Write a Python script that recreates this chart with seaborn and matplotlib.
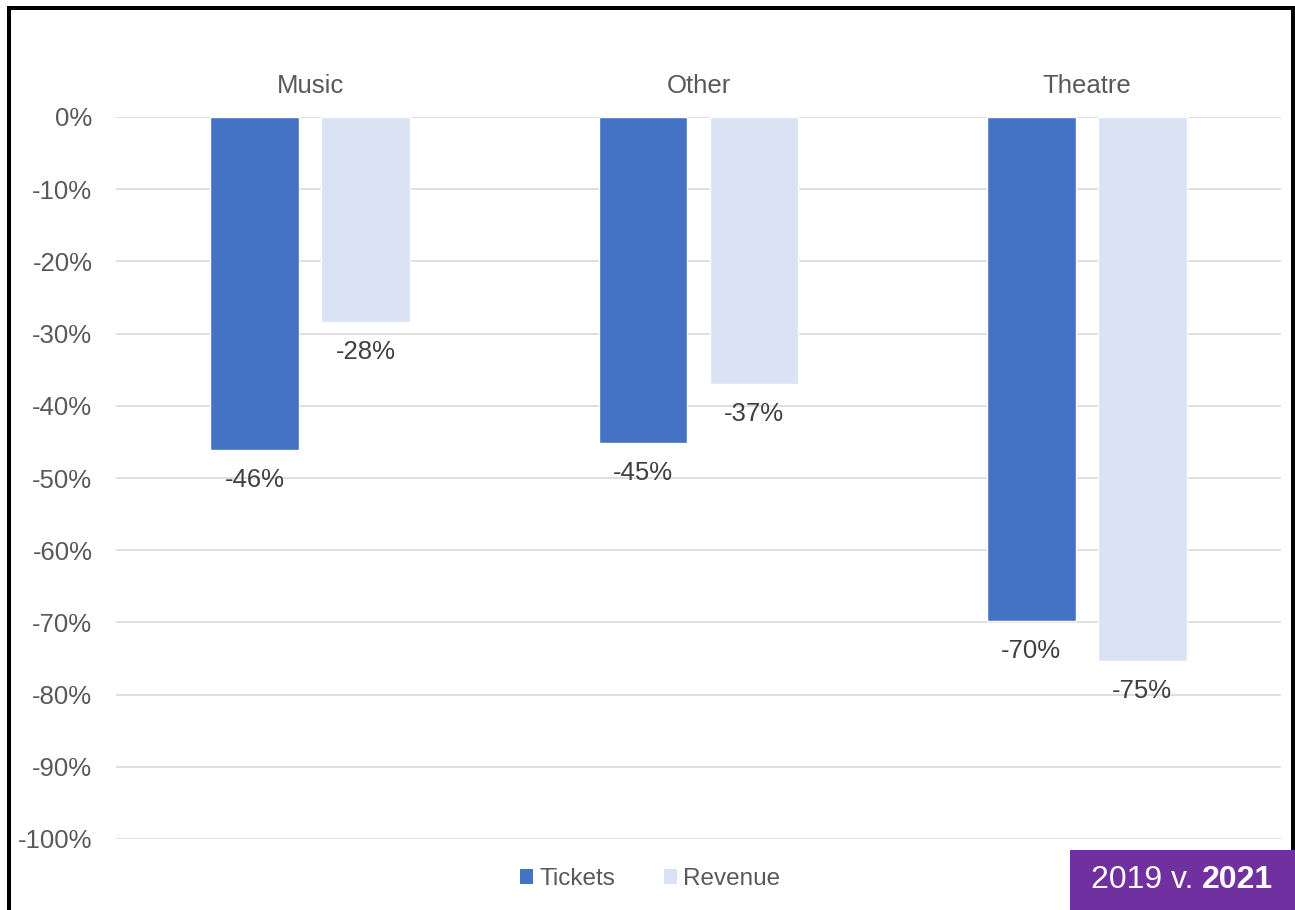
import numpy as np
import pandas as pd
import matplotlib
matplotlib.use("Agg")
import matplotlib.pyplot as plt
from matplotlib.lines import Line2D
from matplotlib.patches import Rectangle, Patch
from matplotlib.text import Annotation
import seaborn as sns

# Change in tickets and revenue by genre, 2019 v. 2021 (%)
categories = ["Music", "Other", "Theatre"]
tickets = [-46.1, -45.2, -69.8]
revenue = [-28.4, -37.0, -75.3]
series_names = ["Tickets", "Revenue"]
y_ticks = list(range(-100, 1, 10))

df = pd.DataFrame({
    "genre": categories * 2,
    "change": tickets + revenue,
    "series": [series_names[0]] * len(categories) + [series_names[1]] * len(categories),
})

sns.set_style("white")
plt.rcParams["font.family"] = ["Liberation Sans", "DejaVu Sans"]

W, H = 1295, 910
fig = plt.figure(figsize=(W / 100, H / 100), dpi=100)
ax = fig.add_axes([116 / W, 1 - 839 / H, (1281 - 116) / W, (839 - 117) / H])

colors = ["#4472C4", "#DAE3F3"]
sns.barplot(data=df, x="genre", y="change", hue="series", order=categories,
            hue_order=series_names, palette=colors, width=0.572, gap=0.2,
            saturation=1, ax=ax, legend=False, zorder=3)

# Value labels under each bar end
for container in ax.containers:
    ax.bar_label(container, labels=[f"{round(v):d}%" for v in container.datavalues],
                 padding=13, fontsize=18.5, color="#404040")

ax.set_ylim(-100, 0)
ax.set_yticks(y_ticks)
ax.set_yticklabels([f"{v}%" for v in y_ticks])
ax.set_xlim(-0.5, len(categories) - 0.5)
ax.xaxis.tick_top()
ax.set_xlabel("")
ax.set_ylabel("")
ax.tick_params(axis="x", length=0, pad=13.5, labelsize=18.5, labelcolor="#595959")
ax.tick_params(axis="y", length=0, pad=17, labelsize=18.5, labelcolor="#595959")
ax.yaxis.grid(True, color="#D9D9D9", linewidth=1.2, zorder=0)
ax.set_axisbelow(True)
for s in ax.spines.values():
    s.set_visible(False)

# Legend at the bottom
handles = [Patch(facecolor=c, edgecolor="none") for c in colors]
fig.legend(handles, series_names, loc="center", bbox_to_anchor=(650 / W, 1 - 879 / H),
           ncol=2, frameon=False, fontsize=17.5, labelcolor="#595959",
           handlelength=0.55, handleheight=0.55, handletextpad=0.25, columnspacing=2.0)

# Frame around the figure
lw = 2.9
fig.add_artist(Line2D([9 / W, 9 / W], [1 - 8 / H, 0], transform=fig.transFigure,
                      color="black", linewidth=lw, solid_capstyle="butt"))
fig.add_artist(Line2D([9 / W, 1293 / W], [1 - 8 / H, 1 - 8 / H], transform=fig.transFigure,
                      color="black", linewidth=lw, solid_capstyle="projecting"))
fig.add_artist(Line2D([1293 / W, 1293 / W], [1 - 8 / H, 1 - 850 / H], transform=fig.transFigure,
                      color="black", linewidth=lw, solid_capstyle="butt"))

# Period badge
fig.add_artist(Rectangle((1070 / W, 0), (W - 1070) / W, 60 / H, transform=fig.transFigure,
                         facecolor="#7030A0", edgecolor="none", zorder=4))
t1 = fig.text(1091 / W, 1 - 880 / H, "2019 v. ", ha="left", va="center",
              fontsize=23, color="white", zorder=5)
t2 = Annotation("2021", xy=(1, 0), xycoords=t1, ha="left", va="bottom",
                fontsize=23, fontweight="bold", color="white", annotation_clip=False)
t2.set_zorder(5)
fig.add_artist(t2)

fig.savefig("out.png", dpi=100)
